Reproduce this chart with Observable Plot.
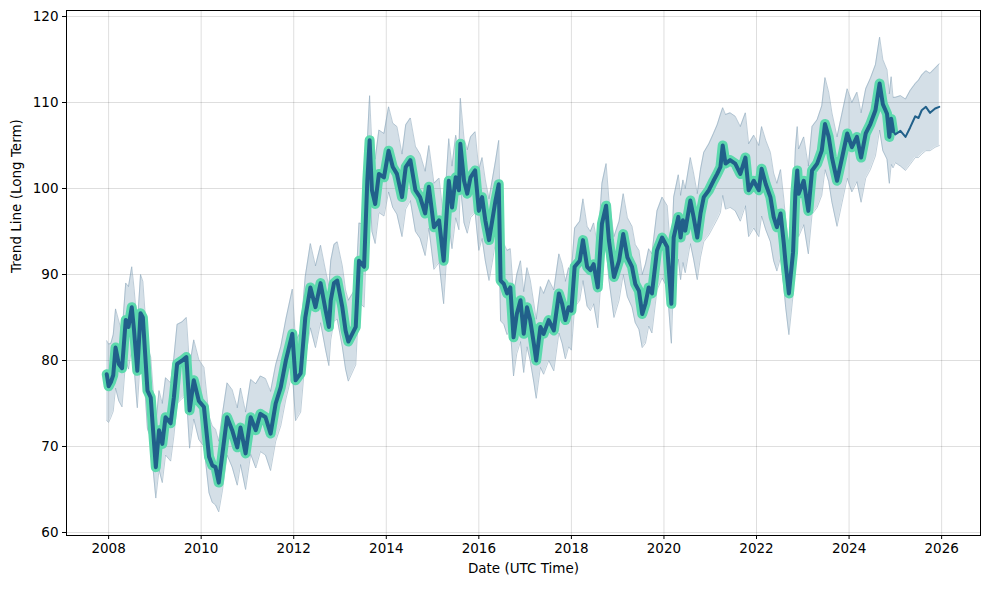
<!DOCTYPE html>
<html>
<head>
<meta charset="utf-8">
<script src="https://cdn.jsdelivr.net/npm/d3@7"></script>
<script src="https://cdn.jsdelivr.net/npm/@observablehq/plot@0.6"></script>
<style>
  html, body { margin: 0; padding: 0; background: white; }
  #chart { width: 989px; height: 589px; }
</style>
</head>
<body>
<div id="chart"></div>
<script>
// ---- Data ----
const xTicks = [2008, 2010, 2012, 2014, 2016, 2018, 2020, 2022, 2024, 2026];
const yTicks = [60, 70, 80, 90, 100, 110, 120];

// historical trend (decimal years)
const histYears = [2007.96,2008.00,2008.05,2008.10,2008.15,2008.22,2008.29,2008.37,2008.43,2008.50,2008.55,2008.62,2008.69,2008.74,2008.84,2008.91,2008.95,2009.02,2009.09,2009.16,2009.23,2009.34,2009.41,2009.48,2009.59,2009.68,2009.75,2009.84,2009.95,2010.06,2010.17,2010.24,2010.31,2010.38,2010.46,2010.56,2010.67,2010.78,2010.85,2010.96,2011.07,2011.18,2011.28,2011.39,2011.50,2011.61,2011.72,2011.83,2011.97,2012.04,2012.15,2012.25,2012.36,2012.47,2012.58,2012.69,2012.76,2012.80,2012.87,2012.94,2013.05,2013.12,2013.18,2013.34,2013.41,2013.52,2013.59,2013.64,2013.69,2013.76,2013.84,2013.95,2014.05,2014.14,2014.23,2014.34,2014.42,2014.52,2014.63,2014.73,2014.84,2014.92,2015.03,2015.14,2015.24,2015.35,2015.42,2015.50,2015.57,2015.60,2015.68,2015.75,2015.82,2015.92,2016.00,2016.07,2016.14,2016.22,2016.29,2016.36,2016.43,2016.47,2016.54,2016.61,2016.68,2016.75,2016.82,2016.90,2016.97,2017.04,2017.11,2017.19,2017.24,2017.33,2017.40,2017.51,2017.62,2017.73,2017.80,2017.87,2017.94,2018.00,2018.07,2018.18,2018.25,2018.34,2018.41,2018.48,2018.57,2018.66,2018.75,2018.81,2018.92,2019.03,2019.12,2019.21,2019.31,2019.38,2019.46,2019.53,2019.60,2019.67,2019.74,2019.85,2019.96,2020.07,2020.16,2020.21,2020.31,2020.36,2020.41,2020.46,2020.57,2020.64,2020.72,2020.79,2020.86,2020.97,2021.07,2021.15,2021.22,2021.27,2021.33,2021.43,2021.54,2021.65,2021.76,2021.83,2021.94,2022.05,2022.11,2022.20,2022.30,2022.37,2022.44,2022.52,2022.59,2022.63,2022.70,2022.79,2022.84,2022.88,2022.91,2023.02,2023.12,2023.20,2023.31,2023.41,2023.48,2023.56,2023.63,2023.74,2023.85,2023.96,2024.06,2024.17,2024.26,2024.36,2024.46,2024.57,2024.66,2024.73,2024.82,2024.87,2024.91,2024.95];
const histTrend = [78.4,77.0,77.5,78.3,81.5,79.6,79.1,84.7,83.9,86.2,83.5,78.8,85.5,85.0,76.5,75.7,72.7,67.6,71.9,70.3,73.4,72.7,75.7,79.6,80.0,80.4,74.2,77.7,75.3,74.6,68.8,67.8,67.6,65.8,69.2,73.4,71.9,69.9,72.2,69.2,73.4,71.9,73.8,73.4,71.5,75.0,76.9,80.0,83.1,77.7,78.5,85.0,88.5,86.2,89.0,85.8,83.9,87.0,89.0,89.3,86.2,83.5,82.2,83.9,91.6,90.9,100.9,105.6,99.8,98.2,101.7,101.3,104.4,102.5,101.7,99.0,102.5,103.3,99.8,99.0,97.1,100.2,95.5,96.3,91.6,100.9,97.8,101.3,99.8,105.2,100.9,99.4,101.3,102.1,97.4,99.0,96.3,94.0,96.3,98.6,100.5,89.3,88.9,87.8,88.5,82.7,85.4,87.0,83.1,86.2,84.7,81.9,80.0,83.9,83.1,84.7,83.5,87.8,86.6,84.7,86.2,85.8,90.9,91.6,94.0,90.9,90.5,91.2,88.5,95.9,98.0,94.0,89.7,91.6,94.7,92.0,90.9,88.9,88.1,85.4,86.6,88.5,87.8,92.8,94.3,93.2,86.6,94.3,96.7,94.3,96.3,95.1,98.6,96.7,94.3,97.1,99.0,99.8,100.9,101.7,102.5,105.0,102.9,103.3,102.9,101.7,103.6,99.8,100.9,99.8,102.3,100.5,99.0,96.7,95.5,97.1,93.6,91.2,87.8,92.6,99.5,102.1,99.4,100.9,97.4,102.1,102.9,104.4,107.5,106.0,103.6,100.9,103.6,106.4,104.8,106.0,103.6,106.4,107.5,109.1,112.2,109.8,108.7,106.0,108.1,106.7];
const histUpper = [82.3,81.9,82.0,83.0,86.0,84.6,83.2,89.0,88.6,90.9,88.4,84.0,90.0,89.2,81.6,80.4,77.5,72.6,76.5,75.0,78.0,77.4,80.3,84.2,84.5,85.0,79.3,82.4,80.1,79.2,73.5,72.4,72.0,70.6,73.8,77.4,76.6,74.5,76.8,74.0,77.8,77.3,78.2,77.9,76.4,79.5,81.6,84.8,88.3,82.3,83.3,89.8,93.6,91.0,93.4,90.4,88.6,91.6,93.5,93.8,91.0,88.2,87.0,88.4,96.0,95.8,105.5,110.8,104.8,103.4,106.8,106.4,109.5,107.6,107.2,104.0,107.4,108.2,104.9,104.0,102.0,105.0,100.6,101.2,96.5,105.8,102.6,106.2,104.6,110.5,105.8,104.5,106.0,106.6,102.2,103.6,101.0,98.8,101.0,103.2,105.6,94.6,93.6,92.8,93.0,87.6,90.0,91.6,88.0,90.8,89.4,86.6,84.8,88.6,87.8,89.4,88.2,92.4,91.2,89.2,90.8,90.4,95.4,96.2,98.8,95.6,95.0,96.0,93.2,100.6,102.9,98.8,94.4,96.2,99.4,96.6,95.6,93.5,92.8,90.0,91.2,93.0,92.4,97.4,99.0,98.0,91.6,99.0,101.6,99.2,101.0,100.0,103.6,101.8,99.4,102.2,104.2,105.2,106.4,107.4,108.6,109.4,108.6,108.8,108.4,107.2,108.8,105.2,106.2,105.0,107.2,105.6,104.2,101.8,100.6,102.2,98.8,96.4,93.0,97.6,104.6,107.2,104.6,106.0,102.6,107.2,108.0,109.6,112.9,111.2,108.8,106.0,108.8,111.6,110.0,111.2,108.8,111.6,112.8,114.4,117.6,115.0,113.8,111.0,113.0,110.6];
const histLower = [73.0,72.8,73.4,74.1,76.8,75.3,74.6,80.1,79.0,81.5,79.2,74.5,80.6,80.3,72.0,71.0,68.0,64.0,67.3,65.8,69.0,68.3,71.2,75.0,75.6,76.0,69.8,73.2,70.8,70.0,64.6,63.5,63.2,62.4,64.9,69.0,67.6,65.5,67.9,65.0,69.1,67.5,69.4,69.0,67.2,70.6,72.4,75.5,78.6,73.0,74.0,80.3,83.8,81.5,84.4,81.2,79.4,82.4,84.6,84.8,81.6,79.0,77.6,79.5,86.8,86.2,96.2,100.9,95.0,93.6,97.2,96.8,99.6,97.8,97.0,94.4,97.6,98.6,95.0,94.2,92.2,95.4,90.6,91.4,86.6,96.0,93.0,96.6,95.2,100.4,96.0,94.8,96.6,97.2,92.8,94.2,91.6,89.3,91.4,93.8,95.6,84.6,84.2,83.0,83.8,78.2,80.8,82.2,78.6,81.6,80.0,77.4,75.6,79.2,78.4,80.0,78.8,83.2,82.0,80.2,81.6,81.2,86.2,87.0,89.3,86.3,85.8,86.6,83.8,91.2,93.2,89.4,85.0,87.0,90.0,87.4,86.2,84.4,83.6,81.5,82.0,84.0,83.2,88.2,89.6,88.5,82.0,89.6,91.8,89.4,91.4,90.2,93.6,91.8,89.4,92.0,93.8,94.6,95.6,96.4,97.2,99.2,97.6,97.8,97.4,96.2,98.0,94.4,95.4,94.4,96.8,95.2,93.8,91.6,90.4,92.0,88.6,86.2,83.0,87.6,94.6,97.0,94.4,95.8,92.4,97.0,97.8,99.2,102.2,100.8,98.4,95.6,98.4,101.2,99.6,100.8,98.4,101.2,102.2,103.8,106.8,104.4,103.4,100.6,102.8,102.4];

// forecast
const fcYears = [2024.95,2025.00,2025.11,2025.22,2025.32,2025.43,2025.50,2025.57,2025.66,2025.75,2025.86,2025.95];
const fcTrend = [106.7,106.3,106.7,106.0,107.1,108.4,108.2,109.1,109.5,108.8,109.3,109.5];
const fcUpper = [110.6,110.6,110.8,110.4,111.4,112.2,112.6,113.2,113.7,113.4,114.0,114.5];
const fcLower = [102.4,103.0,102.6,102.1,102.8,103.6,103.6,104.0,104.4,104.4,104.8,105.0];

const xLabel = "Date (UTC Time)";
const yLabel = "Trend Line (Long Term)";

// ---- Build tables ----
const hist = histYears.map((year, i) => ({year, trend: histTrend[i], upper: histUpper[i], lower: histLower[i]}));
const fc = fcYears.map((year, i) => ({year, trend: fcTrend[i], upper: fcUpper[i], lower: fcLower[i]}));
const band = hist.concat(fc.slice(1));

const font = "'DejaVu Sans', sans-serif";

const chart = Plot.plot({
  width: 989,
  height: 589,
  marginLeft: 66,
  marginRight: 9,
  marginTop: 10,
  marginBottom: 54,
  style: {fontFamily: font, fontSize: "13.5px", background: "white", color: "black", overflow: "visible"},
  x: {domain: [2007.09, 2026.84], ticks: xTicks, tickFormat: d => String(d)},
  y: {domain: [59.65, 120.7], ticks: yTicks},
  marks: [
    Plot.gridX(xTicks, {stroke: "#000", strokeOpacity: 0.13, strokeWidth: 1}),
    Plot.gridY(yTicks, {stroke: "#000", strokeOpacity: 0.13, strokeWidth: 1}),
    Plot.areaY(band, {x: "year", y1: "lower", y2: "upper", fill: "#4a7a9b", fillOpacity: 0.24, curve: "linear"}),
    Plot.line(band, {x: "year", y: "upper", stroke: "#7f9db3", strokeOpacity: 0.5, strokeWidth: 1}),
    Plot.line(band, {x: "year", y: "lower", stroke: "#7f9db3", strokeOpacity: 0.5, strokeWidth: 1}),
    Plot.line(hist, {x: "year", y: "trend", stroke: "#5cd9ad", strokeWidth: 10, strokeLinejoin: "round", strokeLinecap: "round"}),
    Plot.line(hist, {x: "year", y: "trend", stroke: "#21608a", strokeWidth: 4, strokeLinejoin: "round"}),
    Plot.line(fc, {x: "year", y: "trend", stroke: "#21608a", strokeWidth: 2, strokeLinejoin: "round"}),
    Plot.axisX({ticks: xTicks, tickFormat: d => String(d), tickSize: 4, tickPadding: 4, label: null}),
    Plot.axisY({ticks: yTicks, tickSize: 4, tickPadding: 4, label: null}),
    Plot.frame({stroke: "black", strokeWidth: 1}),
    Plot.text([xLabel], {frameAnchor: "bottom", dy: 37, text: d => d, fontSize: 13.5, fill: "black"}),
    Plot.text([yLabel], {frameAnchor: "left", dx: -50, rotate: -90, text: d => d, fontSize: 13.5, fill: "black"})
  ]
});
document.getElementById("chart").appendChild(chart);
</script>
</body>
</html>
